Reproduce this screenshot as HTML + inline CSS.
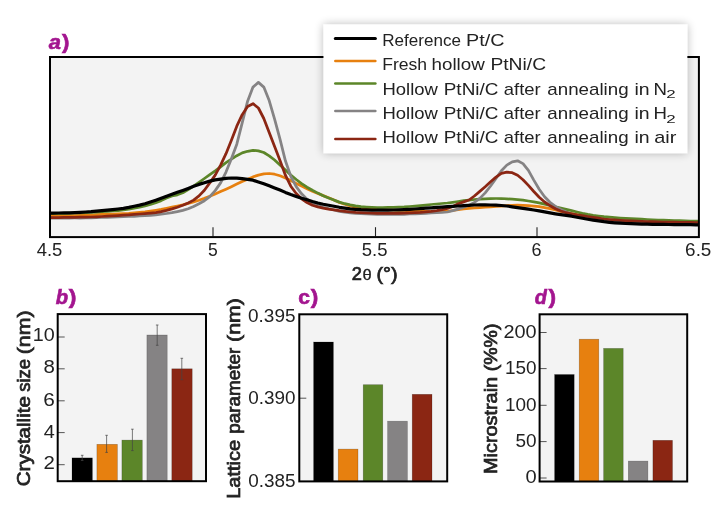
<!DOCTYPE html>
<html lang="en"><head><meta charset="utf-8"><title>XRD figure</title>
<style>html,body{margin:0;padding:0;background:#fff}svg{display:block}text{font-family:"Liberation Sans",sans-serif}</style></head><body>
<svg width="723" height="510" viewBox="0 0 723 510">
<defs><filter id="sh" x="-10%" y="-20%" width="120%" height="140%"><feGaussianBlur in="SourceAlpha" stdDeviation="5"/><feComponentTransfer><feFuncA type="linear" slope="0.28"/></feComponentTransfer><feMerge><feMergeNode/><feMergeNode in="SourceGraphic"/></feMerge></filter>
<clipPath id="ca"><rect x="50" y="57" width="649" height="180"/></clipPath></defs>
<rect width="723" height="510" fill="#fff"/>
<rect x="50" y="57" width="649" height="180" fill="#F3F3F3"/>
<g clip-path="url(#ca)" fill="none" stroke-linejoin="round" stroke-linecap="round">
<path d="M47.8,215.7 L53.2,215.7 L58.6,215.7 L64.0,215.6 L69.4,215.6 L74.8,215.5 L80.2,215.4 L85.6,215.3 L91.0,215.1 L96.4,214.7 L101.8,214.3 L107.2,214.1 L112.6,214.0 L118.0,213.8 L123.4,213.6 L128.8,213.3 L134.2,212.8 L139.6,212.3 L145.0,211.8 L150.4,211.1 L155.8,210.3 L161.2,209.4 L166.6,208.3 L172.0,207.2 L177.4,206.0 L182.8,204.8 L188.2,203.4 L193.6,201.9 L199.0,200.2 L204.4,198.3 L209.8,196.2 L215.2,193.9 L220.6,191.6 L226.0,189.2 L231.4,186.7 L236.8,184.1 L242.2,181.5 L247.6,179.2 L253.0,176.9 L258.4,175.1 L263.8,173.9 L269.2,173.5 L274.6,174.2 L280.0,175.7 L285.4,177.9 L290.8,180.5 L296.2,183.4 L301.6,186.1 L307.0,188.7 L312.4,191.2 L317.8,193.5 L323.2,195.6 L328.6,197.7 L334.0,200.1 L339.4,202.5 L344.8,204.3 L350.2,205.9 L355.6,207.1 L361.0,208.0 L366.4,208.6 L371.8,209.0 L377.2,209.4 L382.6,209.7 L388.0,209.9 L393.4,210.1 L398.8,210.3 L404.2,210.5 L409.6,210.8 L415.0,211.0 L420.4,211.2 L425.8,211.4 L431.2,211.5 L436.6,211.5 L442.0,211.4 L447.4,211.3 L452.8,210.5 L458.2,209.7 L463.6,208.8 L469.0,208.3 L474.4,207.9 L479.8,207.6 L485.2,207.2 L490.6,206.8 L496.0,206.5 L501.4,206.1 L506.8,205.7 L512.2,205.3 L517.6,205.2 L523.0,205.3 L528.4,205.7 L533.8,206.1 L539.2,206.7 L544.6,207.7 L550.0,208.7 L555.4,210.0 L560.8,211.3 L566.2,212.5 L571.6,213.6 L577.0,214.7 L582.4,215.9 L587.8,217.0 L593.2,217.9 L598.6,218.8 L604.0,219.6 L609.4,220.1 L614.8,220.6 L620.2,221.0 L625.6,221.4 L631.0,221.7 L636.4,222.1 L641.8,222.3 L647.2,222.5 L652.6,222.6 L658.0,222.8 L663.4,222.9 L668.8,223.0 L674.2,223.0 L679.6,223.1 L685.0,223.2 L690.4,223.3 L695.8,223.3 L701.2,223.3" stroke="#E7800F" stroke-width="2.75"/>
<path d="M47.8,213.4 L53.2,213.4 L58.6,213.3 L64.0,213.3 L69.4,213.2 L74.8,213.0 L80.2,212.8 L85.6,212.6 L91.0,212.4 L96.4,212.1 L101.8,211.7 L107.2,211.4 L112.6,211.0 L118.0,210.6 L123.4,210.0 L128.8,209.2 L134.2,208.2 L139.6,207.1 L145.0,205.8 L150.4,204.4 L155.8,202.7 L161.2,200.6 L166.6,198.0 L172.0,196.0 L177.4,194.8 L182.8,192.8 L188.2,189.6 L193.6,186.1 L199.0,182.3 L204.4,178.5 L209.8,174.7 L215.2,170.9 L220.6,166.8 L226.0,162.7 L231.4,159.2 L236.8,155.7 L242.2,152.9 L247.6,151.3 L253.0,150.4 L258.4,150.9 L263.8,152.5 L269.2,155.8 L274.6,160.0 L280.0,165.0 L285.4,170.0 L290.8,175.0 L296.2,179.5 L301.6,183.6 L307.0,187.2 L312.4,190.3 L317.8,193.1 L323.2,195.7 L328.6,197.9 L334.0,200.1 L339.4,202.1 L344.8,203.7 L350.2,204.9 L355.6,205.9 L361.0,206.6 L366.4,207.0 L371.8,207.3 L377.2,207.5 L382.6,207.5 L388.0,207.4 L393.4,207.3 L398.8,207.1 L404.2,206.9 L409.6,206.5 L415.0,206.1 L420.4,205.6 L425.8,205.1 L431.2,204.5 L436.6,204.0 L442.0,203.5 L447.4,203.0 L452.8,202.3 L458.2,201.5 L463.6,200.7 L469.0,200.1 L474.4,199.5 L479.8,199.1 L485.2,198.8 L490.6,198.6 L496.0,198.5 L501.4,198.5 L506.8,198.8 L512.2,199.2 L517.6,199.7 L523.0,200.2 L528.4,201.0 L533.8,201.9 L539.2,202.9 L544.6,204.2 L550.0,205.5 L555.4,206.8 L560.8,208.1 L566.2,209.4 L571.6,210.7 L577.0,212.0 L582.4,213.3 L587.8,214.4 L593.2,215.3 L598.6,216.0 L604.0,216.7 L609.4,217.2 L614.8,217.7 L620.2,218.1 L625.6,218.4 L631.0,218.7 L636.4,218.9 L641.8,219.2 L647.2,219.5 L652.6,219.8 L658.0,220.0 L663.4,220.2 L668.8,220.4 L674.2,220.6 L679.6,220.7 L685.0,220.9 L690.4,221.0 L695.8,221.1 L701.2,221.2" stroke="#5C8629" stroke-width="2.75"/>
<path d="M47.8,218.2 L53.2,218.2 L58.6,218.2 L64.0,218.1 L69.4,218.1 L74.8,218.0 L80.2,218.0 L85.6,217.9 L91.0,217.8 L96.4,217.7 L101.8,217.5 L107.2,217.4 L112.6,217.2 L118.0,216.9 L123.4,216.6 L128.8,216.4 L134.2,216.3 L139.6,216.0 L145.0,215.7 L150.4,215.3 L155.8,214.8 L161.2,214.2 L166.6,213.5 L172.0,212.7 L177.4,211.6 L182.8,210.4 L188.2,208.8 L193.6,206.5 L199.0,203.8 L204.4,200.7 L209.8,196.6 L215.2,190.6 L220.6,182.9 L226.0,172.1 L231.4,158.7 L236.8,144.2 L242.2,122.8 L247.6,101.2 L253.0,87.1 L258.4,82.4 L263.8,87.1 L269.2,100.6 L274.6,119.2 L280.0,139.1 L285.4,160.8 L290.8,176.3 L296.2,186.6 L301.6,193.8 L307.0,199.2 L312.4,203.0 L317.8,205.6 L323.2,207.3 L328.6,208.6 L334.0,210.0 L339.4,211.3 L344.8,212.2 L350.2,212.9 L355.6,213.3 L361.0,213.7 L366.4,214.0 L371.8,214.2 L377.2,214.4 L382.6,214.4 L388.0,214.4 L393.4,214.4 L398.8,214.4 L404.2,214.3 L409.6,214.0 L415.0,213.8 L420.4,213.6 L425.8,213.3 L431.2,213.0 L436.6,212.7 L442.0,212.5 L447.4,212.0 L452.8,210.6 L458.2,209.1 L463.6,207.3 L469.0,205.2 L474.4,202.4 L479.8,198.4 L485.2,192.9 L490.6,186.0 L496.0,178.4 L501.4,170.7 L506.8,165.1 L512.2,161.9 L517.6,160.8 L523.0,163.6 L528.4,170.4 L533.8,180.1 L539.2,189.3 L544.6,196.8 L550.0,202.3 L555.4,206.4 L560.8,209.4 L566.2,211.9 L571.6,214.1 L577.0,215.7 L582.4,217.0 L587.8,218.0 L593.2,218.8 L598.6,219.6 L604.0,220.3 L609.4,220.8 L614.8,221.3 L620.2,221.8 L625.6,222.1 L631.0,222.4 L636.4,222.6 L641.8,222.8 L647.2,223.0 L652.6,223.1 L658.0,223.3 L663.4,223.4 L668.8,223.5 L674.2,223.5 L679.6,223.6 L685.0,223.7 L690.4,223.8 L695.8,223.8 L701.2,223.8" stroke="#858384" stroke-width="2.75"/>
<path d="M47.8,217.5 L53.2,217.5 L58.6,217.5 L64.0,217.4 L69.4,217.4 L74.8,217.3 L80.2,217.2 L85.6,217.1 L91.0,217.0 L96.4,216.8 L101.8,216.5 L107.2,216.2 L112.6,215.9 L118.0,215.6 L123.4,215.2 L128.8,214.8 L134.2,214.4 L139.6,214.0 L145.0,213.6 L150.4,213.1 L155.8,212.6 L161.2,211.7 L166.6,210.4 L172.0,208.9 L177.4,207.2 L182.8,205.3 L188.2,203.0 L193.6,200.1 L199.0,195.9 L204.4,190.2 L209.8,182.9 L215.2,175.1 L220.6,165.1 L226.0,153.7 L231.4,140.2 L236.8,126.2 L242.2,114.7 L247.6,106.5 L253.0,103.7 L258.4,108.0 L263.8,118.5 L269.2,132.6 L274.6,146.6 L280.0,160.5 L285.4,175.2 L290.8,186.2 L296.2,193.5 L301.6,198.8 L307.0,202.5 L312.4,205.2 L317.8,206.9 L323.2,208.1 L328.6,209.1 L334.0,209.9 L339.4,210.7 L344.8,211.3 L350.2,211.8 L355.6,212.3 L361.0,212.6 L366.4,212.9 L371.8,213.1 L377.2,213.3 L382.6,213.3 L388.0,213.3 L393.4,213.3 L398.8,213.3 L404.2,213.1 L409.6,212.9 L415.0,212.6 L420.4,212.3 L425.8,211.8 L431.2,211.3 L436.6,210.6 L442.0,209.7 L447.4,208.4 L452.8,206.4 L458.2,203.8 L463.6,201.9 L469.0,200.0 L474.4,196.0 L479.8,191.4 L485.2,186.7 L490.6,181.7 L496.0,177.1 L501.4,173.4 L506.8,172.2 L512.2,172.7 L517.6,175.3 L523.0,179.7 L528.4,185.4 L533.8,191.5 L539.2,197.2 L544.6,202.0 L550.0,205.7 L555.4,208.8 L560.8,211.0 L566.2,212.7 L571.6,213.8 L577.0,214.8 L582.4,215.6 L587.8,216.5 L593.2,217.4 L598.6,218.2 L604.0,219.0 L609.4,219.5 L614.8,219.9 L620.2,220.3 L625.6,220.6 L631.0,220.9 L636.4,221.2 L641.8,221.4 L647.2,221.6 L652.6,221.7 L658.0,221.9 L663.4,222.0 L668.8,222.1 L674.2,222.2 L679.6,222.3 L685.0,222.3 L690.4,222.4 L695.8,222.5 L701.2,222.5" stroke="#8B2613" stroke-width="2.75"/>
<path d="M47.8,213.1 L53.2,213.1 L58.6,213.0 L64.0,212.9 L69.4,212.8 L74.8,212.6 L80.2,212.3 L85.6,212.0 L91.0,211.7 L96.4,211.2 L101.8,210.7 L107.2,210.2 L112.6,209.6 L118.0,209.0 L123.4,208.3 L128.8,207.4 L134.2,206.3 L139.6,205.1 L145.0,203.7 L150.4,202.0 L155.8,200.2 L161.2,198.3 L166.6,196.3 L172.0,194.3 L177.4,192.3 L182.8,190.4 L188.2,188.4 L193.6,186.3 L199.0,184.4 L204.4,182.7 L209.8,181.1 L215.2,179.9 L220.6,179.1 L226.0,178.4 L231.4,178.0 L236.8,178.1 L242.2,178.6 L247.6,179.3 L253.0,180.2 L258.4,182.0 L263.8,183.8 L269.2,185.8 L274.6,187.9 L280.0,190.1 L285.4,192.4 L290.8,194.5 L296.2,196.4 L301.6,198.2 L307.0,199.8 L312.4,201.5 L317.8,203.0 L323.2,204.2 L328.6,205.2 L334.0,206.3 L339.4,207.3 L344.8,208.1 L350.2,208.8 L355.6,209.3 L361.0,209.7 L366.4,209.9 L371.8,210.1 L377.2,210.2 L382.6,210.2 L388.0,210.1 L393.4,210.0 L398.8,209.8 L404.2,209.6 L409.6,209.3 L415.0,209.0 L420.4,208.6 L425.8,208.2 L431.2,207.8 L436.6,207.4 L442.0,207.1 L447.4,206.7 L452.8,206.3 L458.2,206.0 L463.6,205.7 L469.0,205.3 L474.4,205.0 L479.8,204.8 L485.2,204.8 L490.6,205.0 L496.0,205.2 L501.4,205.5 L506.8,206.0 L512.2,206.8 L517.6,207.6 L523.0,208.3 L528.4,209.2 L533.8,210.0 L539.2,210.9 L544.6,211.9 L550.0,212.9 L555.4,213.8 L560.8,214.6 L566.2,215.4 L571.6,216.2 L577.0,217.2 L582.4,218.2 L587.8,219.2 L593.2,220.1 L598.6,220.9 L604.0,221.7 L609.4,222.3 L614.8,222.8 L620.2,223.2 L625.6,223.5 L631.0,223.7 L636.4,223.9 L641.8,224.1 L647.2,224.2 L652.6,224.3 L658.0,224.4 L663.4,224.4 L668.8,224.5 L674.2,224.6 L679.6,224.6 L685.0,224.7 L690.4,224.7 L695.8,224.8 L701.2,224.8" stroke="#000000" stroke-width="3.2"/>
</g>
<line x1="213.00" y1="227.2" x2="213.00" y2="236.5" stroke="#222" stroke-width="1.1"/>
<line x1="375.50" y1="227.2" x2="375.50" y2="236.5" stroke="#222" stroke-width="1.1"/>
<line x1="537.00" y1="227.2" x2="537.00" y2="236.5" stroke="#222" stroke-width="1.1"/>
<rect x="50" y="57" width="648.9" height="180.1" fill="none" stroke="#000" stroke-width="2"/>
<text x="36.68" y="255.8" font-size="17.5" textLength="25.60" lengthAdjust="spacingAndGlyphs" fill="#222222">4.5</text>
<text x="208.00" y="255.8" font-size="17.5" textLength="9.74" lengthAdjust="spacingAndGlyphs" fill="#222222">5</text>
<text x="361.76" y="255.8" font-size="17.5" textLength="25.72" lengthAdjust="spacingAndGlyphs" fill="#222222">5.5</text>
<text x="531.49" y="255.8" font-size="17.5" textLength="10.00" lengthAdjust="spacingAndGlyphs" fill="#222222">6</text>
<text x="685.14" y="255.8" font-size="17.5" textLength="26.25" lengthAdjust="spacingAndGlyphs" fill="#222222">6.5</text>
<text x="351.88" y="280.1" font-size="17.5" textLength="10.13" lengthAdjust="spacingAndGlyphs" fill="#222222" stroke="#222222" stroke-width="0.7">2</text>
<text x="362.44" y="280.3" font-size="15.2" textLength="9.22" lengthAdjust="spacingAndGlyphs" fill="#222222" stroke="#222222" stroke-width="0.3">θ</text>
<text x="376.47" y="280.1" font-size="17.5" textLength="21.16" lengthAdjust="spacingAndGlyphs" fill="#222222" stroke="#222222" stroke-width="0.7">(°)</text>
<rect x="323.5" y="24.5" width="363.8" height="128.7" fill="#fff" filter="url(#sh)"/>
<line x1="335.3" y1="38.6" x2="375.4" y2="38.6" stroke="#000000" stroke-width="3.0" stroke-linecap="round"/>
<text x="382.30" y="45.8" font-size="17.0" textLength="78.66" lengthAdjust="spacingAndGlyphs" fill="#222222">Reference</text>
<text x="465.98" y="45.8" font-size="17.0" textLength="38.48" lengthAdjust="spacingAndGlyphs" fill="#222222">Pt/C</text>
<line x1="335.3" y1="60.9" x2="375.4" y2="60.9" stroke="#E7800F" stroke-width="2.5" stroke-linecap="round"/>
<text x="382.26" y="70.3" font-size="17.0" textLength="44.88" lengthAdjust="spacingAndGlyphs" fill="#222222">Fresh</text>
<text x="431.50" y="70.3" font-size="17.0" textLength="53.26" lengthAdjust="spacingAndGlyphs" fill="#222222">hollow</text>
<text x="490.42" y="70.3" font-size="17.0" textLength="55.72" lengthAdjust="spacingAndGlyphs" fill="#222222">PtNi/C</text>
<line x1="335.3" y1="83.6" x2="375.4" y2="83.6" stroke="#5C8629" stroke-width="2.5" stroke-linecap="round"/>
<text x="382.48" y="94.6" font-size="17.0" textLength="55.47" lengthAdjust="spacingAndGlyphs" fill="#222222">Hollow</text>
<text x="443.75" y="94.6" font-size="17.0" textLength="54.67" lengthAdjust="spacingAndGlyphs" fill="#222222">PtNi/C</text>
<text x="503.82" y="94.6" font-size="17.0" textLength="36.89" lengthAdjust="spacingAndGlyphs" fill="#222222">after</text>
<text x="547.30" y="94.6" font-size="17.0" textLength="81.30" lengthAdjust="spacingAndGlyphs" fill="#222222">annealing</text>
<text x="634.50" y="94.6" font-size="17.0" textLength="15.17" lengthAdjust="spacingAndGlyphs" fill="#222222">in</text>
<text x="653.47" y="94.6" font-size="17.0" textLength="13.45" lengthAdjust="spacingAndGlyphs" fill="#222222">N</text>
<text x="666.35" y="98.39999999999999" font-size="11.8" textLength="9.40" lengthAdjust="spacingAndGlyphs" fill="#222222">2</text>
<line x1="335.3" y1="110.9" x2="375.4" y2="110.9" stroke="#858384" stroke-width="2.5" stroke-linecap="round"/>
<text x="382.48" y="118.9" font-size="17.0" textLength="55.47" lengthAdjust="spacingAndGlyphs" fill="#222222">Hollow</text>
<text x="443.75" y="118.9" font-size="17.0" textLength="54.67" lengthAdjust="spacingAndGlyphs" fill="#222222">PtNi/C</text>
<text x="503.82" y="118.9" font-size="17.0" textLength="36.89" lengthAdjust="spacingAndGlyphs" fill="#222222">after</text>
<text x="547.30" y="118.9" font-size="17.0" textLength="81.30" lengthAdjust="spacingAndGlyphs" fill="#222222">annealing</text>
<text x="634.50" y="118.9" font-size="17.0" textLength="15.17" lengthAdjust="spacingAndGlyphs" fill="#222222">in</text>
<text x="653.47" y="118.9" font-size="17.0" textLength="13.45" lengthAdjust="spacingAndGlyphs" fill="#222222">H</text>
<text x="666.35" y="122.7" font-size="11.8" textLength="9.40" lengthAdjust="spacingAndGlyphs" fill="#222222">2</text>
<line x1="335.3" y1="138.9" x2="375.4" y2="138.9" stroke="#8B2613" stroke-width="2.5" stroke-linecap="round"/>
<text x="382.48" y="143.1" font-size="17.0" textLength="55.47" lengthAdjust="spacingAndGlyphs" fill="#222222">Hollow</text>
<text x="443.75" y="143.1" font-size="17.0" textLength="54.67" lengthAdjust="spacingAndGlyphs" fill="#222222">PtNi/C</text>
<text x="503.82" y="143.1" font-size="17.0" textLength="36.89" lengthAdjust="spacingAndGlyphs" fill="#222222">after</text>
<text x="547.30" y="143.1" font-size="17.0" textLength="81.30" lengthAdjust="spacingAndGlyphs" fill="#222222">annealing</text>
<text x="634.50" y="143.1" font-size="17.0" textLength="15.17" lengthAdjust="spacingAndGlyphs" fill="#222222">in</text>
<text x="654.15" y="143.1" font-size="17.0" textLength="22.18" lengthAdjust="spacingAndGlyphs" fill="#222222">air</text>
<text x="48.89" y="48.7" font-size="19.6" font-weight="bold" font-style="italic" textLength="12.15" lengthAdjust="spacingAndGlyphs" fill="#A3158F" stroke="#A3158F" stroke-width="0.6">a</text>
<text x="62.08" y="48.7" font-size="19.6" font-weight="bold" textLength="7.43" lengthAdjust="spacingAndGlyphs" fill="#A3158F" stroke="#A3158F" stroke-width="0.6">)</text>
<text x="55.86" y="304.20000000000005" font-size="19.6" font-weight="bold" font-style="italic" textLength="12.33" lengthAdjust="spacingAndGlyphs" fill="#A3158F" stroke="#A3158F" stroke-width="0.6">b</text>
<text x="68.78" y="304.20000000000005" font-size="19.6" font-weight="bold" textLength="7.67" lengthAdjust="spacingAndGlyphs" fill="#A3158F" stroke="#A3158F" stroke-width="0.6">)</text>
<text x="298.38" y="304.2" font-size="19.6" font-weight="bold" textLength="11.74" lengthAdjust="spacingAndGlyphs" fill="#A3158F" stroke="#A3158F" stroke-width="0.6">c</text>
<text x="310.78" y="304.2" font-size="19.6" font-weight="bold" textLength="7.55" lengthAdjust="spacingAndGlyphs" fill="#A3158F" stroke="#A3158F" stroke-width="0.6">)</text>
<text x="534.74" y="304.20000000000005" font-size="19.6" font-weight="bold" font-style="italic" textLength="12.12" lengthAdjust="spacingAndGlyphs" fill="#A3158F" stroke="#A3158F" stroke-width="0.6">d</text>
<text x="548.58" y="304.20000000000005" font-size="19.6" font-weight="bold" textLength="7.55" lengthAdjust="spacingAndGlyphs" fill="#A3158F" stroke="#A3158F" stroke-width="0.6">)</text>
<rect x="57.7" y="314.1" width="148.3" height="167.09999999999997" fill="#F3F3F3"/>
<rect x="72" y="457.9" width="20.4" height="23.3" fill="#000000" stroke="#000" stroke-opacity="0.3" stroke-width="0.6"/>
<rect x="96.9" y="444.3" width="20.5" height="36.9" fill="#E7800F" stroke="#000" stroke-opacity="0.3" stroke-width="0.6"/>
<rect x="121.9" y="440.1" width="20.4" height="41.1" fill="#5C8629" stroke="#000" stroke-opacity="0.3" stroke-width="0.6"/>
<rect x="146.9" y="335" width="20.3" height="146.2" fill="#858384" stroke="#000" stroke-opacity="0.3" stroke-width="0.6"/>
<rect x="171.8" y="368.8" width="20.4" height="112.4" fill="#8B2613" stroke="#000" stroke-opacity="0.3" stroke-width="0.6"/>
<path d="M82.2,455.3V460.5M80.9,455.3h2.6M80.9,460.5h2.6" stroke="#444" stroke-width="0.7" fill="none"/>
<path d="M106.6,435.3V452.4M105.3,435.3h2.6M105.3,452.4h2.6" stroke="#444" stroke-width="0.7" fill="none"/>
<path d="M132.4,429.2V450.6M131.1,429.2h2.6M131.1,450.6h2.6" stroke="#444" stroke-width="0.7" fill="none"/>
<path d="M157.2,325V345.3M155.89999999999998,325h2.6M155.89999999999998,345.3h2.6" stroke="#444" stroke-width="0.7" fill="none"/>
<path d="M181.8,358.3V379.7M180.5,358.3h2.6M180.5,379.7h2.6" stroke="#444" stroke-width="0.7" fill="none"/>
<line x1="57.7" y1="464.7" x2="64.7" y2="464.7" stroke="#555" stroke-width="1"/>
<line x1="57.7" y1="432.6" x2="64.7" y2="432.6" stroke="#555" stroke-width="1"/>
<line x1="57.7" y1="400.8" x2="64.7" y2="400.8" stroke="#555" stroke-width="1"/>
<line x1="57.7" y1="368.8" x2="64.7" y2="368.8" stroke="#555" stroke-width="1"/>
<line x1="57.7" y1="337" x2="64.7" y2="337" stroke="#555" stroke-width="1"/>
<rect x="57.7" y="314.1" width="148.3" height="167.09999999999997" fill="none" stroke="#000" stroke-width="2"/>
<text x="32.80" y="341.3" font-size="17.5" textLength="21.98" lengthAdjust="spacingAndGlyphs" fill="#222222">10</text>
<text x="43.51" y="373.4" font-size="17.5" textLength="11.38" lengthAdjust="spacingAndGlyphs" fill="#222222">8</text>
<text x="43.34" y="405.5" font-size="17.5" textLength="11.57" lengthAdjust="spacingAndGlyphs" fill="#222222">6</text>
<text x="43.74" y="438" font-size="17.5" textLength="11.04" lengthAdjust="spacingAndGlyphs" fill="#222222">4</text>
<text x="43.47" y="469.2" font-size="17.5" textLength="11.35" lengthAdjust="spacingAndGlyphs" fill="#222222">2</text>
<text transform="translate(29.8,485.2) rotate(-90)" x="-1.04" y="0" font-size="17.5" textLength="90.05" lengthAdjust="spacingAndGlyphs" fill="#222222" stroke="#222222" stroke-width="0.7">Crystallite</text>
<text transform="translate(29.8,391.3) rotate(-90)" x="-0.51" y="0" font-size="17.5" textLength="32.73" lengthAdjust="spacingAndGlyphs" fill="#222222" stroke="#222222" stroke-width="0.7">size</text>
<text transform="translate(29.8,353) rotate(-90)" x="-1.32" y="0" font-size="17.5" textLength="43.85" lengthAdjust="spacingAndGlyphs" fill="#222222" stroke="#222222" stroke-width="0.7">(nm)</text>
<rect x="299.3" y="314.3" width="147.89999999999998" height="167.09999999999997" fill="#F3F3F3"/>
<rect x="313.6" y="342" width="19.8" height="139.4" fill="#000000" stroke="#000" stroke-opacity="0.3" stroke-width="0.6"/>
<rect x="338.2" y="449.1" width="19.8" height="32.3" fill="#E7800F" stroke="#000" stroke-opacity="0.3" stroke-width="0.6"/>
<rect x="363.2" y="384.7" width="19.6" height="96.7" fill="#5C8629" stroke="#000" stroke-opacity="0.3" stroke-width="0.6"/>
<rect x="387.6" y="421.2" width="19.8" height="60.2" fill="#858384" stroke="#000" stroke-opacity="0.3" stroke-width="0.6"/>
<rect x="412.2" y="394.3" width="19.8" height="87.1" fill="#8B2613" stroke="#000" stroke-opacity="0.3" stroke-width="0.6"/>
<line x1="299.3" y1="398.2" x2="306.3" y2="398.2" stroke="#555" stroke-width="1"/>
<rect x="299.3" y="314.3" width="147.89999999999998" height="167.09999999999997" fill="none" stroke="#000" stroke-width="2"/>
<text x="248.06" y="321.6" font-size="17.5" textLength="47.44" lengthAdjust="spacingAndGlyphs" fill="#222222">0.395</text>
<text x="248.26" y="404.2" font-size="17.5" textLength="47.28" lengthAdjust="spacingAndGlyphs" fill="#222222">0.390</text>
<text x="248.26" y="487.2" font-size="17.5" textLength="47.33" lengthAdjust="spacingAndGlyphs" fill="#222222">0.385</text>
<text transform="translate(239.7,497.2) rotate(-90)" x="-1.64" y="0" font-size="17.5" textLength="58.93" lengthAdjust="spacingAndGlyphs" fill="#222222" stroke="#222222" stroke-width="0.7">Lattice</text>
<text transform="translate(239.7,432.6) rotate(-90)" x="-1.22" y="0" font-size="17.5" textLength="86.23" lengthAdjust="spacingAndGlyphs" fill="#222222" stroke="#222222" stroke-width="0.7">parameter</text>
<text transform="translate(239.7,340.6) rotate(-90)" x="-1.32" y="0" font-size="17.5" textLength="43.85" lengthAdjust="spacingAndGlyphs" fill="#222222" stroke="#222222" stroke-width="0.7">(nm)</text>
<rect x="539.6" y="314.3" width="147.60000000000002" height="167.2" fill="#F3F3F3"/>
<rect x="554.6" y="374.5" width="19.6" height="107.0" fill="#000000" stroke="#000" stroke-opacity="0.3" stroke-width="0.6"/>
<rect x="579.2" y="339.2" width="19.6" height="142.3" fill="#E7800F" stroke="#000" stroke-opacity="0.3" stroke-width="0.6"/>
<rect x="603.6" y="348.4" width="19.6" height="133.1" fill="#5C8629" stroke="#000" stroke-opacity="0.3" stroke-width="0.6"/>
<rect x="628.3" y="461.1" width="19.6" height="20.4" fill="#858384" stroke="#000" stroke-opacity="0.3" stroke-width="0.6"/>
<rect x="652.9" y="440.3" width="19.6" height="41.2" fill="#8B2613" stroke="#000" stroke-opacity="0.3" stroke-width="0.6"/>
<line x1="539.6" y1="478" x2="546.6" y2="478" stroke="#555" stroke-width="1"/>
<line x1="539.6" y1="441.6" x2="546.6" y2="441.6" stroke="#555" stroke-width="1"/>
<line x1="539.6" y1="405.3" x2="546.6" y2="405.3" stroke="#555" stroke-width="1"/>
<line x1="539.6" y1="368.6" x2="546.6" y2="368.6" stroke="#555" stroke-width="1"/>
<line x1="539.6" y1="332.5" x2="546.6" y2="332.5" stroke="#555" stroke-width="1"/>
<rect x="539.6" y="314.3" width="147.60000000000002" height="167.2" fill="none" stroke="#000" stroke-width="2"/>
<text x="503.40" y="338" font-size="17.5" textLength="33.18" lengthAdjust="spacingAndGlyphs" fill="#222222">200</text>
<text x="504.96" y="374.3" font-size="17.5" textLength="31.58" lengthAdjust="spacingAndGlyphs" fill="#222222">150</text>
<text x="504.96" y="410.6" font-size="17.5" textLength="31.58" lengthAdjust="spacingAndGlyphs" fill="#222222">100</text>
<text x="515.44" y="446.9" font-size="17.5" textLength="21.10" lengthAdjust="spacingAndGlyphs" fill="#222222">50</text>
<text x="525.42" y="483.4" font-size="17.5" textLength="11.17" lengthAdjust="spacingAndGlyphs" fill="#222222">0</text>
<text transform="translate(496.8,472.3) rotate(-90)" x="-1.63" y="0" font-size="17.5" textLength="97.02" lengthAdjust="spacingAndGlyphs" fill="#222222" stroke="#222222" stroke-width="0.7">Microstrain</text>
<text transform="translate(496.8,370.1) rotate(-90)" x="-1.21" y="0" font-size="17.5" textLength="47.72" lengthAdjust="spacingAndGlyphs" fill="#222222" stroke="#222222" stroke-width="0.7">(%%)</text>
</svg></body></html>
